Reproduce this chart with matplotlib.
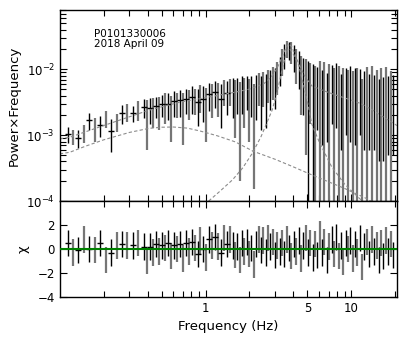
import matplotlib
matplotlib.use("Agg")
import matplotlib.pyplot as plt
from matplotlib.ticker import LogLocator, FixedLocator, FixedFormatter, NullFormatter
import numpy as np

# frequency bins (Hz)
freq = [0.113, 0.123, 0.134, 0.146, 0.159, 0.174, 0.189, 0.206, 0.225, 0.245,
        0.267, 0.291, 0.317, 0.346, 0.377,
        0.398, 0.417, 0.437, 0.458, 0.480, 0.503, 0.527, 0.552, 0.578, 0.606,
        0.635, 0.665, 0.697, 0.730, 0.765, 0.802, 0.840, 0.880, 0.922, 0.966,
        1.01, 1.06, 1.11, 1.16, 1.22, 1.28, 1.34, 1.40, 1.47,
        1.53, 1.59, 1.65, 1.71, 1.78, 1.84, 1.91, 1.99, 2.06, 2.14,
        2.22, 2.31, 2.39, 2.48, 2.58, 2.68, 2.78, 2.88, 2.99, 3.11,
        3.22, 3.35, 3.47, 3.60, 3.74, 3.88, 4.03, 4.18, 4.34, 4.51,
        4.68, 4.86, 5.04, 5.23, 5.43,
        5.64, 5.85, 6.07, 6.30, 6.54, 6.79, 7.05, 7.32, 7.59, 7.88,
        8.18, 8.49, 8.82, 9.15, 9.50, 9.86, 10.2, 10.6, 11.0, 11.4,
        11.9, 12.3, 12.8, 13.3, 13.8, 14.3, 14.9, 15.4, 16.0, 16.6,
        17.3, 17.9, 18.6, 19.3]

# power x frequency
power = [1.05e-3, 9.5e-4, 9.2e-4, 1.1e-3, 1.7e-3, 1.3e-3, 1.45e-3, 1.8e-3, 1.15e-3, 1.6e-3,
         2.2e-3, 2.3e-3, 2.2e-3, 2.45e-3, 2.7e-3,
         2.0e-3, 2.6e-3, 2.5e-3, 2.8e-3, 2.5e-3, 3.0e-3, 2.9e-3, 3.0e-3, 2.4e-3, 3.3e-3,
         3.1e-3, 3.4e-3, 2.5e-3, 3.6e-3, 3.3e-3, 3.8e-3, 3.5e-3, 3.2e-3, 4.0e-3, 3.6e-3,
         3.0e-3, 4.2e-3, 3.9e-3, 4.6e-3, 4.1e-3, 3.6e-3, 4.8e-3, 4.3e-3, 5.0e-3,
         4.6e-3, 3.9e-3, 4.8e-3, 3.3e-3, 5.0e-3, 4.3e-3, 5.2e-3, 4.0e-3, 4.9e-3, 3.1e-3,
         5.0e-3, 5.8e-3, 4.6e-3, 5.9e-3, 4.9e-3, 6.5e-3, 6.0e-3, 7.2e-3, 6.5e-3, 8.6e-3,
         1.05e-2, 1.4e-2, 1.7e-2, 2.1e-2, 2.0e-2, 1.9e-2, 1.6e-2, 1.3e-2, 1.2e-2, 9.0e-3,
         8.5e-3, 7.5e-3, 6.5e-3, 7.0e-3, 6.0e-3,
         5.5e-3, 6.0e-3, 6.5e-3, 5.2e-3, 6.2e-3, 4.8e-3, 5.8e-3, 6.5e-3, 5.0e-3, 6.8e-3,
         5.5e-3, 4.6e-3, 5.0e-3, 5.8e-3, 4.8e-3, 6.0e-3, 4.5e-3, 5.5e-3, 5.0e-3, 5.6e-3,
         3.5e-3, 5.0e-3, 5.2e-3, 4.6e-3, 5.4e-3, 4.4e-3, 4.8e-3, 3.8e-3, 5.0e-3, 4.0e-3,
         5.2e-3, 4.2e-3, 4.6e-3, 4.3e-3]

power_err = [2.8e-4, 2.5e-4, 2.8e-4, 3.5e-4, 5e-4, 5e-4, 5e-4, 5e-4, 6e-4, 5e-4,
             7e-4, 7e-4, 6e-4, 8e-4, 9e-4,
             1.4e-3, 1.1e-3, 1.2e-3, 1.0e-3, 1.3e-3, 1.1e-3, 1.4e-3, 1.3e-3, 1.6e-3, 1.4e-3,
             1.3e-3, 1.5e-3, 1.8e-3, 1.5e-3, 1.6e-3, 1.7e-3, 1.5e-3, 1.8e-3, 1.8e-3, 2.0e-3,
             2.2e-3, 1.9e-3, 2.1e-3, 2.0e-3, 2.2e-3, 2.3e-3, 2.0e-3, 2.3e-3, 2.2e-3,
             2.8e-3, 3.0e-3, 2.7e-3, 3.1e-3, 2.9e-3, 3.0e-3, 2.8e-3, 3.2e-3, 3.0e-3, 2.95e-3,
             3.3e-3, 3.0e-3, 3.4e-3, 3.2e-3, 3.6e-3, 3.4e-3, 3.6e-3, 3.8e-3, 4.0e-3, 4.5e-3,
             5e-3, 6e-3, 7e-3, 6e-3, 6e-3, 7e-3, 7e-3, 7e-3, 7e-3, 7e-3,
             6.5e-3, 7e-3, 6.8e-3, 5.5e-3, 6.2e-3,
             5.8e-3, 4.8e-3, 6.8e-3, 4.5e-3, 6.5e-3, 4.0e-3, 6.1e-3, 5.0e-3, 5.3e-3, 5.5e-3,
             5.8e-3, 4.0e-3, 5.3e-3, 4.8e-3, 5.1e-3, 5.2e-3, 4.8e-3, 4.8e-3, 5.3e-3, 4.6e-3,
             3.7e-3, 4.4e-3, 5.5e-3, 4.0e-3, 5.7e-3, 3.8e-3, 5.1e-3, 3.4e-3, 5.3e-3, 3.6e-3,
             5.5e-3, 3.7e-3, 4.9e-3, 3.8e-3]

# residuals (chi)
chi = [0.5, -0.3, -0.1, 0.8, 0.0, -0.1, 0.5, -0.9, -0.3, 0.3, 0.4, 0.3, 0.3, 0.5, 0.2,
       -1.0, 0.2, -0.3, 0.4, -0.2, 0.3, 0.1, 0.5, -0.6, 0.3, 0.0, 0.4, -0.8, 0.5, -0.2,
       0.6, 0.1, -0.4, 0.7, 0.0, -0.7, 0.8, 0.3, 1.0, 0.2, -0.3, 0.9, 0.4, 0.8,
       0.3, -0.5, 0.2, -0.9, 0.5, -0.2, 0.6, -0.4, 0.1, -1.3, 0.4, 0.8, -0.1, 0.7, -0.3,
       0.9, 0.2, 0.6, -0.5, 0.3, -0.2, 0.5, -0.4, 0.8, 0.1, -0.6, 0.4, -0.2, 0.7, -0.8,
       0.3, 0.9, -0.3, 0.5, -0.7,
       0.4, -0.5, 1.2, -0.3, 0.6, -0.9, 0.2, 0.8, -0.4, 1.0, -0.6, 0.3, -1.1, 0.5, 0.0,
       0.7, -0.8, 0.4, -0.3, 0.9, -1.5, 0.2, 0.6, -0.4, 0.8, -0.2, 0.3, -0.9, 0.5, -0.6,
       0.7, -0.2, 0.4, -0.5]
chi_err = 1.1

# model components
total_f = [0.1, 0.117, 0.2, 0.3, 0.41, 0.55, 0.68, 0.925, 1.2, 1.6, 2.0, 2.5, 2.8, 3.1,
           3.35, 3.55, 3.72, 3.9, 4.15, 4.4, 4.8, 5.35, 6.5, 8.0, 10.0, 11.7, 14.0, 16.5, 19.6, 20.5]
total_p = [8.8e-4, 9.3e-4, 1.4e-3, 1.9e-3, 2.4e-3, 2.85e-3, 3.2e-3, 3.6e-3, 4.0e-3, 4.5e-3,
           5.0e-3, 6.0e-3, 7.5e-3, 1.05e-2, 1.55e-2, 2.1e-2, 2.45e-2, 2.2e-2, 1.6e-2, 1.15e-2,
           7.8e-3, 5.6e-3, 4.7e-3, 4.0e-3, 3.4e-3, 3.0e-3, 2.4e-3, 1.9e-3, 1.5e-3, 1.4e-3]
broad_f = [0.1, 0.117, 0.15, 0.2, 0.3, 0.41, 0.5, 0.6, 0.75, 0.925, 1.2, 1.6, 2.12, 3.0,
           4.0, 5.34, 7.0, 9.0, 12.6, 14.0]
broad_p = [5.2e-4, 5.5e-4, 6.8e-4, 8.5e-4, 1.1e-3, 1.27e-3, 1.32e-3, 1.33e-3, 1.28e-3, 1.15e-3,
           9.8e-4, 7.9e-4, 5.7e-4, 4.3e-4, 3.3e-4, 2.5e-4, 1.95e-4, 1.55e-4, 1.1e-4, 9.6e-5]
qpo_f = [1.0, 1.05, 1.25, 1.53, 1.8, 2.09, 2.4, 2.65, 2.86, 3.05, 3.2, 3.34, 3.45, 3.55,
         3.63, 3.71, 3.8, 3.9, 4.0, 4.15, 4.33, 4.6, 5.0, 5.34, 6.0, 7.33, 9.0, 11.7, 12.5]
qpo_p = [8.5e-5, 1.0e-4, 1.4e-4, 2.1e-4, 3.2e-4, 5.3e-4, 9.5e-4, 1.6e-3, 2.4e-3, 4.0e-3,
         6.2e-3, 9.7e-3, 1.3e-2, 1.65e-2, 1.9e-2, 2.06e-2, 2.0e-2, 1.85e-2, 1.7e-2, 1.45e-2,
         1.2e-2, 7.0e-3, 3.2e-3, 1.5e-3, 8.0e-4, 3.3e-4, 1.8e-4, 1.03e-4, 9.0e-5]

freq = np.array(freq)
power = np.array(power)
power_err = np.array(power_err)
chi = np.array(chi)

fig = plt.figure(figsize=(4.07, 3.39), dpi=100)
ax = fig.add_axes([0.147, 0.407, 0.828, 0.564])
axr = fig.add_axes([0.147, 0.124, 0.828, 0.283], sharex=ax)

idx = np.arange(len(freq))
black = idx % 2 == 0
grey = ~black
low = freq < 1.5   # horizontal ticks only visible on the sparse low-f bins

for a, y, e in [(ax, power, power_err), (axr, chi, chi_err)]:
    ye = e[grey] if np.ndim(e) else e
    a.errorbar(freq[grey], y[grey], yerr=ye, fmt='none',
               ecolor='#767676', elinewidth=1.6, capsize=0)
    ye = e[black] if np.ndim(e) else e
    a.errorbar(freq[black], y[black], yerr=ye, fmt='none',
               ecolor='black', elinewidth=1.0, capsize=0)
    a.plot(freq[black & low], y[black & low], ls='none', marker='_',
           color='black', ms=5, mew=1.0)

for mf, mp in [(total_f, total_p), (broad_f, broad_p), (qpo_f, qpo_p)]:
    ax.plot(mf, mp, ls=(0, (3, 2)), color='#8c8c8c', lw=0.8)

axr.axhline(0, color='green', lw=1.5, zorder=5)

ax.set_xscale('log')
ax.set_yscale('log')
ax.set_xlim(0.1, 20.5)
ax.set_ylim(1e-4, 8e-2)
axr.set_ylim(-4, 4)

ax.text(0.1, 0.9, 'P0101330006\n2018 April 09', transform=ax.transAxes,
        fontsize=7.5, va='top', ha='left', linespacing=1.0)

ax.set_ylabel('Power×Frequency', fontsize=9.5, labelpad=4)
axr.set_ylabel('χ', fontsize=9.5, labelpad=6)
axr.set_xlabel('Frequency (Hz)', fontsize=9.5)

axr.xaxis.set_major_locator(FixedLocator([1, 5, 10]))
axr.xaxis.set_major_formatter(FixedFormatter(['1', '5', '10']))
axr.xaxis.set_minor_locator(LogLocator(base=10, subs=np.arange(2, 10) / 1.0, numticks=20))
axr.xaxis.set_minor_formatter(NullFormatter())
plt.setp(ax.get_xticklabels(), visible=False)
axr.yaxis.set_major_locator(FixedLocator([-4, -2, 0, 2]))

for a in (ax, axr):
    a.tick_params(which='both', direction='in', top=True, right=True, labelsize=8.5, width=0.8)
    a.tick_params(which='major', length=5)
    a.tick_params(which='minor', length=4)
    for s in a.spines.values():
        s.set_linewidth(1.0)
ax.yaxis.set_minor_locator(LogLocator(base=10, subs=np.arange(2, 10) / 1.0, numticks=20))

fig.savefig('out.png', dpi=100)
